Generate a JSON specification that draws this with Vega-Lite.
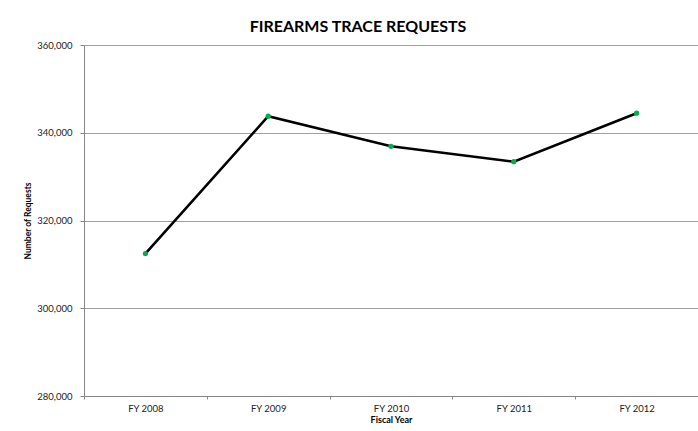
{
  "$schema": "https://vega.github.io/schema/vega-lite/v6.json",
  "width": 614,
  "height": 351,
  "autosize": {"type": "none"},
  "padding": {"left": 84, "top": 45, "right": 0, "bottom": 35},
  "background": "white",
  "title": {
    "text": "FIREARMS TRACE REQUESTS",
    "font": "Lato",
    "fontSize": 16,
    "fontWeight": "bold",
    "color": "#000000",
    "offset": 5,
    "dx": -33
  },
  "config": {
    "view": {"stroke": null},
    "axis": {"labelFont": "Lato", "titleFont": "Lato"}
  },
  "data": {
    "values": [
      {"year": "FY 2008", "requests": 312450},
      {"year": "FY 2009", "requests": 343770},
      {"year": "FY 2010", "requests": 336910},
      {"year": "FY 2011", "requests": 333410},
      {"year": "FY 2012", "requests": 344450}
    ]
  },
  "encoding": {
    "x": {
      "field": "year",
      "type": "ordinal",
      "scale": {"paddingInner": 0, "paddingOuter": 0},
      "axis": {
        "title": "Fiscal Year",
        "titleFontSize": 9,
        "titleFontWeight": "bold",
        "titleColor": "#000000",
        "titlePadding": 3,
        "labelAngle": 0,
        "labelFontSize": 9.5,
        "labelColor": "#222222",
        "labelPadding": 4,
        "domainColor": "#868686",
        "tickColor": "#868686",
        "tickSize": 3,
        "tickBand": "extent",
        "grid": false
      }
    },
    "y": {
      "field": "requests",
      "type": "quantitative",
      "scale": {"domain": [280000, 360000], "nice": false, "zero": false},
      "axis": {
        "title": "Number of Requests",
        "titleFontSize": 8.5,
        "titleFontWeight": "bold",
        "titleColor": "#000000",
        "titlePadding": 4,
        "values": [280000, 300000, 320000, 340000, 360000],
        "format": ",.0f",
        "labelFontSize": 9.5,
        "labelColor": "#222222",
        "labelPadding": 8,
        "domainColor": "#868686",
        "tickColor": "#868686",
        "tickSize": 4,
        "gridColor": "#a0a0a0",
        "gridWidth": 1
      }
    }
  },
  "layer": [
    {"mark": {"type": "line", "color": "#000000", "strokeWidth": 2.6}},
    {"mark": {"type": "point", "filled": true, "color": "#00b050", "opacity": 1, "size": 28}}
  ]
}
